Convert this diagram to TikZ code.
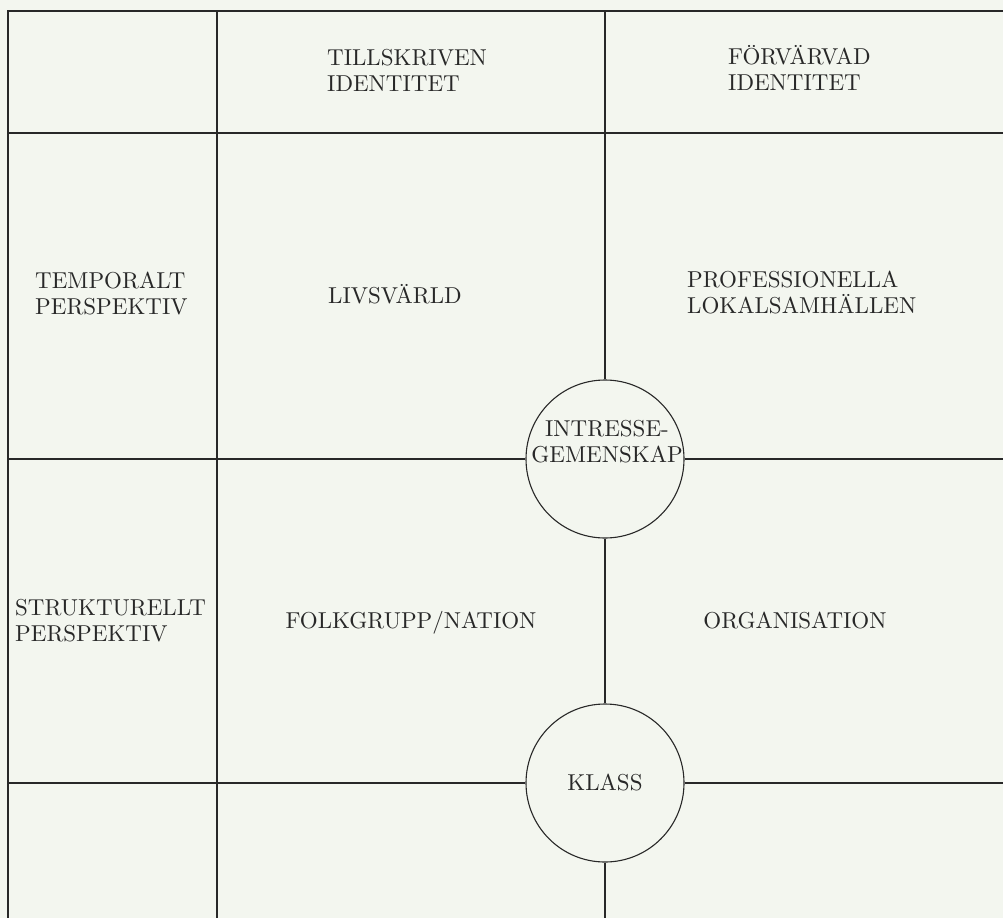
\documentclass[tikz,border=0pt]{standalone}
\usepackage{fontspec}
\newfontfamily\cellfont{lmroman10-regular}[Extension=.otf]
\usepackage{xcolor}
\definecolor{paper}{RGB}{243,246,239}
\definecolor{ink}{RGB}{40,40,40}
\tikzstyle{rule} = [color=ink, line width=1.1pt]
\tikzstyle{cell} = [color=ink, inner sep=0pt, font=\cellfont\fontsize{23}{26}\selectfont, align=left]
\tikzstyle{ring} = [draw=ink, text=ink, line width=1.1pt, circle, minimum size=158pt, inner sep=0pt, font=\cellfont\fontsize{23}{26}\selectfont]

\begin{document}
\begin{tikzpicture}[x=1pt,y=-1pt]
            % page
            \fill[paper] (0,0) rectangle (1003,918);
            \useasboundingbox (0,0) rectangle (1003,918);
            % grid
            \draw[rule] (1003,11) -- (8,11) -- (8,918);
            \draw[rule] (217,11) -- (217,918);
            \draw[rule] (8,133) -- (1003,133);
            % circles
            \draw (605,459) node[ring] (gem) {};
            \draw (605,783) node[ring] (klass) {KLASS};
            \node[cell, align=center] (gemtext) at (607,442) {INTRESSE-\\GEMENSKAP};
            % ends
            \coordinate (top) at (605,11);
            \coordinate (bot) at (605,918);
            \coordinate (w1) at (8,459);
            \coordinate (e1) at (1003,459);
            \coordinate (w2) at (8,783);
            \coordinate (e2) at (1003,783);
            % edges
            \draw[rule] (top) -- (gem);
            \draw[rule] (gem) -- (klass);
            \draw[rule] (klass) -- (bot);
            \draw[rule] (w1) -- (gem);
            \draw[rule] (gem) -- (e1);
            \draw[rule] (w2) -- (klass);
            \draw[rule] (klass) -- (e2);
            % labels
            \node[cell, anchor=west] (tills) at (327,70) {TILLSKRIVEN\\IDENTITET};
            \node[cell, anchor=west] (forv) at (728,68) {F\"ORV\"ARVAD\\IDENTITET};
            \node[cell, anchor=west] (temp) at (35,294) {TEMPORALT\\PERSPEKTIV};
            \node[cell, anchor=base] (livs) at (395,303) {LIVSV\"ARLD};
            \node[cell, anchor=west] (prof) at (687,293) {PROFESSIONELLA\\LOKALSAMH\"ALLEN};
            \node[cell, anchor=west] (strukt) at (15,621) {STRUKTURELLT\\PERSPEKTIV};
            \node[cell, anchor=base] (folk) at (411,628) {FOLKGRUPP/NATION};
            \node[cell, anchor=base] (org) at (795,628) {ORGANISATION};
        \end{tikzpicture}
\end{document}
